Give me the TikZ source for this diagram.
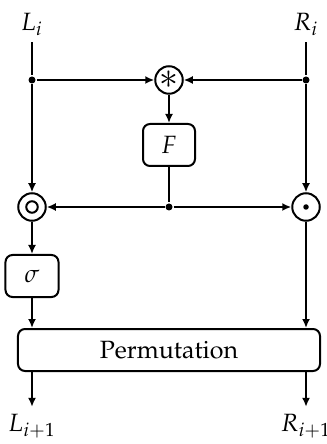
\documentclass[tikz,border=0pt]{standalone}
\usepackage[T1]{fontenc}
\usepackage{mathpazo}
\usetikzlibrary{arrows.meta}
\begin{document}
\begin{tikzpicture}[x=0.4pt,y=-0.4pt, line width=0.8pt,
  >={Latex[length=3.6pt,width=3.2pt]},
  fbox/.style={draw, rounded corners=2.8pt, minimum width=20.8pt, minimum height=16.8pt, inner sep=0pt},
  opnode/.style={draw, circle, minimum size=11pt, inner sep=0pt},
  joint/.style={circle, fill, inner sep=0pt, minimum size=2.8pt},
  lbl/.style={inner sep=2.5pt}]
\useasboundingbox (0,0) rectangle (326,444);
% labels
\node[lbl] (Li) at (32,24) {$L_i$};
\node[lbl] (Ri) at (306,24) {$R_i$};
\node[lbl] (Lo) at (32,426) {$L_{i+1}$};
\node[lbl] (Ro) at (306,426) {$R_{i+1}$};
% joints
\node[joint] (dL) at (32,80) {};
\node[joint] (dR) at (306,80) {};
\node[joint] (dM) at (169,207) {};
% operators
\node[opnode] (S) at (169,80) {\scalebox{1.45}{$\ast$}};
\node[opnode] (CL) at (32,207) {};
\node[opnode] (CR) at (306,207) {};
\draw (CL.center) circle[radius=2.3pt];
\fill (CR.center) circle[radius=1.1pt];
% boxes
\node[fbox] (F) at (169,145) {$F$};
\node[fbox, minimum width=21.2pt] (sig) at (32,276) {$\sigma$};
\node[fbox, minimum width=120.8pt] (P) at (169,350) {Permutation};
% connectors
\draw (Li) -- (dL);
\draw[->] (dL) -- (CL);
\draw (Ri) -- (dR);
\draw[->] (dR) -- (CR);
\draw[->] (dL) -- (S);
\draw[->] (dR) -- (S);
\draw[->] (S) -- (F);
\draw (F) -- (dM);
\draw[->] (dM) -- (CL);
\draw[->] (dM) -- (CR);
\draw[->] (CL) -- (sig);
\draw[->] (sig) -- (sig.south |- P.north);
\draw[->] (CR) -- (CR |- P.north);
\draw[->] (P.south -| Lo) -- (Lo);
\draw[->] (P.south -| Ro) -- (Ro);
\end{tikzpicture}
\end{document}
